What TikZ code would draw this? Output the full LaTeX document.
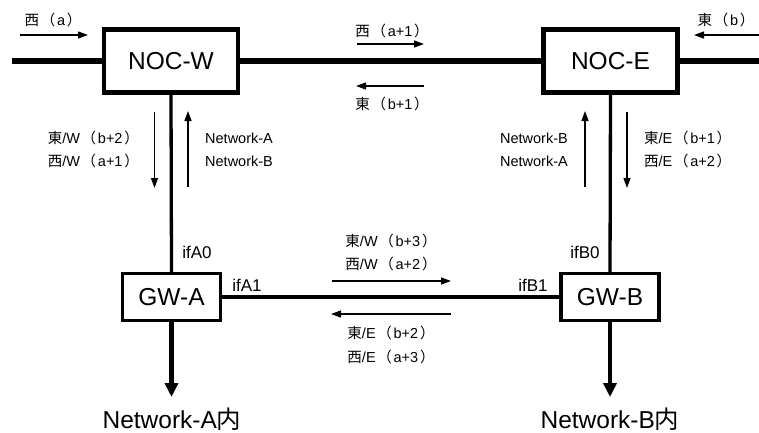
\documentclass[tikz,border=0pt]{standalone}
\usepackage{fontspec}
\setmainfont{Liberation Sans}
\newfontfamily\cjk{Noto Sans CJK JP}
\usetikzlibrary{arrows.meta}
\newcommand\pp[1]{\kern.12em{\cjk （}\kern.12em #1\kern.12em{\cjk ）}}
\newcommand\cj[1]{{\cjk #1}}
\begin{document}
\begin{tikzpicture}[x=1pt,y=-1pt,
  noc/.style={draw,line width=4.2pt,minimum width=134pt,minimum height=63pt,inner sep=0pt,font=\fontsize{24.5}{28}\selectfont},
  gw/.style={draw,line width=3.2pt,minimum width=98pt,minimum height=47pt,inner sep=0pt,font=\fontsize{24.5}{28}\selectfont},
  lab/.style={inner sep=0pt,font=\fontsize{14.5}{17}\selectfont},
  iflab/.style={inner sep=0pt,font=\fontsize{17}{20}\selectfont},
  big/.style={inner sep=0pt,font=\fontsize{24.5}{28}\selectfont},
  thin/.style={line width=1.3pt,-{Triangle[length=10pt,width=7pt]}},
  trunk/.style={line width=6.5pt},
  link/.style={line width=3.3pt},
  down/.style={line width=4.5pt,-{Triangle[length=14pt,width=13pt]}}]
\useasboundingbox (0,0) rectangle (759,432);
% boxes
\node[noc] (nocw) at (171,61) {NOC-W};
\node[noc] (noce) at (610.5,61) {NOC-E};
\node[gw] (gwa) at (171.5,297) {GW-A};
\node[gw] (gwb) at (610,297) {GW-B};
% free ends
\coordinate (lend) at (12,61);
\coordinate (rend) at (759,61);
\coordinate (aout) at (171.5,397);
\coordinate (bout) at (610,397);
% trunk lines
\draw[trunk] (lend) -- (nocw.west);
\draw[trunk] (nocw.east) -- (noce.west);
\draw[trunk] (noce.east) -- (rend);
\draw[link] (nocw.south) -- (gwa.north);
\draw[link] (noce.south) -- (gwb.north);
\draw[link] (gwa.east) -- (gwb.west);
\draw[down] (gwa.south) -- (aout);
\draw[down] (gwb.south) -- (bout);
% arrow coordinates
\coordinate (a1s) at (20,35);   \coordinate (a1e) at (88,35);
\coordinate (a2s) at (759,35);  \coordinate (a2e) at (694,35);
\coordinate (a3s) at (357,44);  \coordinate (a3e) at (424,44);
\coordinate (a4s) at (424,86);  \coordinate (a4e) at (356,86);
\coordinate (a5s) at (154.5,112); \coordinate (a5e) at (154.5,188);
\coordinate (a6s) at (188,187); \coordinate (a6e) at (188,111);
\coordinate (a7s) at (585,187); \coordinate (a7e) at (585,111);
\coordinate (a8s) at (627,112); \coordinate (a8e) at (627,188);
\coordinate (a9s) at (332,281); \coordinate (a9e) at (451,281);
\coordinate (a10s) at (451,314); \coordinate (a10e) at (331,314);
\foreach \i in {1,...,10} {\draw[thin] (a\i s) -- (a\i e);}
% labels
\node[lab] (t1) at (53,20) {\cj{西}\pp{a}};
\node[lab] (t2) at (726,20) {\cj{東}\pp{b}};
\node[lab] (t3) at (392,31) {\cj{西}\pp{a+1}};
\node[lab] (t4) at (392,104) {\cj{東}\pp{b+1}};
\node[lab,anchor=east] (t5) at (139,138) {\cj{東}/W\pp{b+2}};
\node[lab,anchor=east] (t6) at (139,161) {\cj{西}/W\pp{a+1}};
\node[lab,anchor=west] (t7) at (205,138) {Network-A};
\node[lab,anchor=west] (t8) at (205,161) {Network-B};
\node[lab,anchor=east] (t9) at (568,138) {Network-B};
\node[lab,anchor=east] (t10) at (568,161) {Network-A};
\node[lab,anchor=west] (t11) at (644,138) {\cj{東}/E\pp{b+1}};
\node[lab,anchor=west] (t12) at (644,161) {\cj{西}/E\pp{a+2}};
\node[lab] (t13) at (391,241) {\cj{東}/W\pp{b+3}};
\node[lab] (t14) at (391,264) {\cj{西}/W\pp{a+2}};
\node[lab] (t15) at (391,333) {\cj{東}/E\pp{b+2}};
\node[lab] (t16) at (391,357) {\cj{西}/E\pp{a+3}};
\node[iflab] (ia0) at (197,252) {ifA0};
\node[iflab] (ib0) at (585,252) {ifB0};
\node[iflab] (ia1) at (247,285) {ifA1};
\node[iflab] (ib1) at (533,285) {ifB1};
\node[big] (na) at (172,419) {Network-A\cj{内}};
\node[big] (nb) at (610,419) {Network-B\cj{内}};
\end{tikzpicture}
\end{document}
